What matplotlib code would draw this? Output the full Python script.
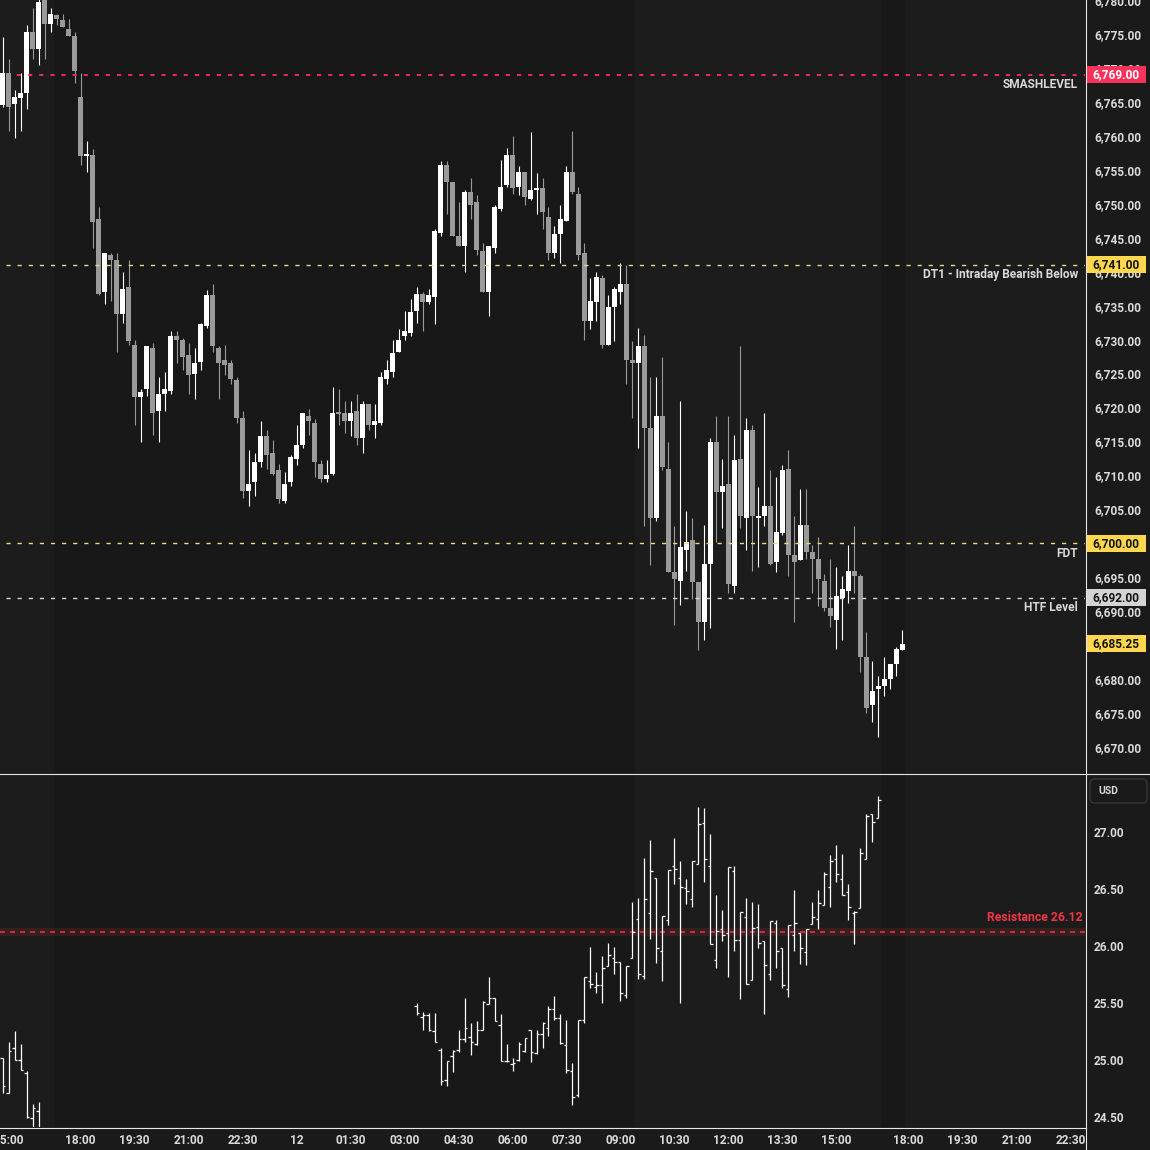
import matplotlib
matplotlib.use("Agg")
import matplotlib.pyplot as plt
import matplotlib.transforms as mtransforms
from matplotlib.patches import Rectangle, FancyBboxPatch
from matplotlib.lines import Line2D
import numpy as np

# %% data: 10 min candles, index 0 = 14:50 (day 11), index 150 = last bar (day 12)
opens = [6764.5, 6769.25, 6764.75, 6765.5, 6766.25, 6775.25, 6772.75, 6780.0, 6776.5, 6777.75,
         6777.0, 6775.75, 6774.75, 6765.75, 6757.0, 6757.25, 6747.75, 6737.0, 6742.5, 6741.75,
         6733.75, 6737.75, 6729.25, 6721.5, 6722.75, 6728.75, 6719.5, 6722.0, 6722.5, 6730.5,
         6730.0, 6727.75, 6725.0, 6726.75, 6732.0, 6736.5, 6728.75, 6727.0, 6726.5, 6724.0,
         6718.5, 6707.75, 6709.0, 6712.0, 6715.75, 6713.25, 6710.75, 6706.25, 6709.0, 6712.5,
         6714.5, 6718.75, 6717.75, 6711.75, 6709.5, 6710.25, 6719.25, 6719.25, 6718.0, 6719.5,
         6715.5, 6720.5, 6717.5, 6717.75, 6724.25, 6725.25, 6728.25, 6730.5, 6731.0, 6734.25,
         6736.75, 6735.5, 6736.25, 6745.75, 6755.75, 6753.25, 6745.25, 6743.75, 6751.75, 6750.25,
         6743.0, 6737.0, 6743.5, 6749.25, 6752.75, 6757.25, 6752.5, 6754.75, 6750.75, 6752.0,
         6752.25, 6748.0, 6742.75, 6745.5, 6747.5, 6754.75, 6751.5, 6742.75, 6732.75, 6735.5,
         6739.0, 6729.25, 6734.75, 6737.0, 6738.25, 6727.0, 6726.5, 6729.0, 6717.0, 6703.75,
         6718.75, 6711.0, 6695.75, 6694.5, 6699.0, 6700.5, 6694.25, 6688.5, 6697.0, 6715.0,
         6707.5, 6708.75, 6693.75, 6712.5, 6703.75, 6716.75, 6703.75, 6704.0, 6705.5, 6697.25,
         6701.5, 6711.0, 6698.25, 6697.5, 6702.75, 6698.75, 6697.75, 6694.5, 6690.5, 6688.75,
         6692.0, 6693.0, 6696.0, 6695.25, 6683.25, 6676.25, 6678.5, 6679.0, 6680.0, 6682.25,
         6684.25]
highs = [6774.5, 6771.25, 6766.75, 6769.25, 6776.25, 6778.75, 6781.0, 6781.0, 6778.75, 6778.0,
         6778.0, 6777.25, 6775.25, 6769.25, 6759.25, 6758.0, 6749.5, 6742.75, 6742.75, 6742.75,
         6740.0, 6741.75, 6730.0, 6722.75, 6729.0, 6729.5, 6724.5, 6725.25, 6731.25, 6731.25,
         6730.25, 6729.5, 6728.75, 6732.5, 6737.25, 6738.25, 6729.0, 6729.25, 6727.0, 6724.5,
         6719.5, 6713.75, 6713.25, 6718.0, 6716.75, 6715.25, 6711.75, 6710.5, 6713.0, 6717.5,
         6719.25, 6719.75, 6718.25, 6712.25, 6712.25, 6723.0, 6722.75, 6721.0, 6721.0, 6722.0,
         6721.0, 6720.5, 6720.5, 6725.25, 6727.0, 6730.0, 6731.5, 6734.25, 6736.0, 6737.75,
         6737.0, 6737.5, 6746.25, 6756.25, 6756.25, 6753.25, 6750.25, 6752.0, 6753.75, 6751.25,
         6744.25, 6743.75, 6749.75, 6756.5, 6758.25, 6760.0, 6755.5, 6754.75, 6760.5, 6754.5,
         6753.75, 6749.5, 6746.75, 6749.75, 6755.5, 6760.75, 6752.5, 6744.25, 6739.0, 6740.0,
         6739.5, 6736.5, 6737.75, 6741.25, 6741.0, 6729.75, 6731.75, 6730.75, 6724.5, 6724.5,
         6727.5, 6715.0, 6702.5, 6721.0, 6704.75, 6703.75, 6694.25, 6702.75, 6715.5, 6718.75,
         6712.5, 6718.75, 6716.0, 6729.0, 6718.5, 6717.5, 6708.25, 6719.25, 6710.75, 6709.75,
         6711.5, 6713.75, 6704.0, 6708.0, 6708.0, 6699.75, 6701.0, 6695.5, 6697.75, 6696.5,
         6695.25, 6699.75, 6702.5, 6695.5, 6687.0, 6682.75, 6680.5, 6683.25, 6682.25, 6684.75,
         6687.25]
lows = [6764.25, 6760.75, 6759.75, 6760.75, 6764.0, 6771.25, 6770.5, 6771.25, 6775.25, 6776.25,
        6776.0, 6774.75, 6767.75, 6755.75, 6754.75, 6743.5, 6736.5, 6735.25, 6735.75, 6728.25,
        6732.5, 6729.25, 6717.5, 6715.0, 6721.75, 6716.0, 6715.0, 6719.5, 6722.0, 6726.5,
        6725.5, 6722.0, 6721.25, 6725.5, 6731.75, 6728.25, 6721.25, 6724.75, 6723.5, 6717.75,
        6706.75, 6705.5, 6707.0, 6711.25, 6711.0, 6710.0, 6706.0, 6706.0, 6708.5, 6711.5,
        6714.0, 6716.0, 6709.75, 6709.0, 6709.0, 6710.0, 6717.5, 6716.25, 6715.75, 6714.5,
        6713.25, 6716.75, 6715.5, 6717.5, 6723.5, 6724.5, 6728.25, 6730.0, 6730.5, 6732.5,
        6731.25, 6735.25, 6732.25, 6745.25, 6748.5, 6745.25, 6743.75, 6740.0, 6747.75, 6742.5,
        6737.0, 6733.5, 6742.75, 6749.0, 6752.5, 6751.5, 6751.25, 6749.75, 6750.5, 6748.5,
        6746.25, 6741.75, 6742.0, 6741.25, 6747.5, 6751.5, 6741.75, 6730.0, 6731.5, 6732.75,
        6728.75, 6729.25, 6729.75, 6735.25, 6723.5, 6718.5, 6714.0, 6702.5, 6696.75, 6703.25,
        6710.75, 6695.75, 6688.0, 6691.0, 6696.0, 6691.75, 6684.25, 6685.75, 6687.5, 6700.25,
        6702.25, 6692.75, 6692.75, 6702.25, 6699.0, 6696.0, 6696.5, 6702.5, 6696.75, 6695.75,
        6701.25, 6695.25, 6688.5, 6697.5, 6697.75, 6692.75, 6690.75, 6690.0, 6687.75, 6684.5,
        6685.75, 6691.25, 6692.75, 6681.0, 6675.0, 6673.75, 6671.5, 6677.5, 6678.5, 6680.5,
        6684.25]
closes = [6769.25, 6764.25, 6765.75, 6766.25, 6775.25, 6772.75, 6779.75, 6776.5, 6778.0, 6777.25,
          6776.0, 6774.75, 6769.5, 6757.0, 6757.25, 6747.25, 6736.75, 6742.75, 6741.75, 6733.75,
          6737.5, 6729.75, 6721.5, 6722.25, 6729.0, 6719.25, 6722.0, 6722.75, 6730.5, 6730.0,
          6727.5, 6724.75, 6726.5, 6732.25, 6736.5, 6729.0, 6726.5, 6726.25, 6724.25, 6718.5,
          6707.75, 6708.75, 6712.0, 6715.75, 6713.0, 6710.25, 6706.5, 6708.75, 6712.75, 6714.5,
          6719.25, 6718.0, 6712.0, 6709.5, 6710.0, 6719.25, 6719.0, 6718.0, 6719.25, 6715.5,
          6720.5, 6717.5, 6718.0, 6724.5, 6725.5, 6728.0, 6730.0, 6731.25, 6734.0, 6736.75,
          6735.5, 6736.5, 6746.0, 6755.75, 6753.25, 6745.25, 6743.75, 6751.75, 6749.75, 6743.25,
          6737.0, 6743.75, 6749.5, 6752.5, 6757.25, 6752.25, 6754.75, 6751.0, 6752.0, 6752.25,
          6748.75, 6742.75, 6745.5, 6747.75, 6754.75, 6751.75, 6742.5, 6732.75, 6735.75, 6739.25,
          6729.25, 6734.75, 6737.5, 6738.25, 6727.0, 6726.5, 6729.0, 6717.0, 6703.75, 6718.75,
          6711.25, 6695.75, 6694.75, 6699.5, 6700.25, 6694.25, 6688.5, 6697.0, 6715.0, 6707.5,
          6708.5, 6694.0, 6712.25, 6704.0, 6716.75, 6704.0, 6704.0, 6705.5, 6697.0, 6701.75,
          6710.75, 6698.25, 6697.25, 6702.75, 6698.75, 6697.75, 6694.75, 6690.5, 6689.25, 6692.25,
          6693.25, 6696.0, 6695.25, 6683.25, 6675.75, 6678.25, 6679.0, 6680.0, 6682.25, 6684.5,
          6685.25]

# lower pane OHLC bars, two stretches (first starts at bar 0, second at bar 69)
vix1_start = 0
vix1_open = [25.02, 24.71, 25.10, 25.00, 24.88, 24.49, 24.55]
vix1_high = [25.02, 25.16, 25.25, 25.14, 24.90, 24.61, 24.63]
vix1_low = [24.71, 24.71, 25.00, 24.91, 24.49, 24.41, 24.38]
vix1_close = [24.77, 25.08, 25.00, 24.91, 24.50, 24.58, 24.40]

vix2_start = 69
vix2_open = [25.47, 25.38, 25.39, 25.25, 25.09, 24.82, 25.03, 25.09, 25.18, 25.20,
             25.14, 25.26, 25.49, 25.54, 25.31, 24.99, 24.96, 25.00, 25.08, 25.26,
             25.06, 25.23, 25.28, 25.45, 25.37, 25.13, 24.90, 24.69, 25.35, 25.69,
             25.64, 25.66, 25.82, 25.89, 25.86, 25.57, 25.89, 26.24, 25.74, 26.29,
             26.60, 25.96, 26.23, 26.70, 26.60, 26.51, 26.41, 26.72, 27.08, 26.70,
             25.88, 26.15, 26.11, 26.66, 26.05, 26.25, 25.70, 26.17, 26.04, 25.75,
             26.20, 25.98, 25.62, 26.10, 26.11, 25.95, 26.19, 26.24, 26.36, 26.52,
             26.76, 26.59, 26.47, 26.29, 26.33, 26.76, 27.16, 27.12]
vix2_high = [25.50, 25.42, 25.41, 25.41, 25.10, 24.99, 25.09, 25.26, 25.54, 25.32,
             25.34, 25.52, 25.73, 25.54, 25.40, 25.14, 25.02, 25.16, 25.19, 25.26,
             25.26, 25.33, 25.47, 25.56, 25.40, 25.35, 24.97, 25.35, 25.73, 25.99,
             25.77, 25.91, 26.03, 25.99, 25.86, 25.82, 26.39, 26.42, 26.77, 26.93,
             26.60, 26.26, 26.67, 26.95, 26.75, 26.59, 26.75, 27.22, 27.21, 26.98,
             26.45, 26.32, 26.69, 26.70, 26.30, 26.42, 26.39, 26.37, 26.04, 26.22,
             26.23, 25.98, 26.18, 26.49, 26.11, 26.15, 26.39, 26.49, 26.65, 26.80,
             26.89, 26.81, 26.54, 26.31, 26.86, 27.16, 27.16, 27.32]
vix2_low = [25.39, 25.26, 25.25, 25.16, 24.78, 24.77, 24.89, 25.07, 25.16, 25.04,
            25.13, 25.26, 25.49, 25.34, 24.99, 24.98, 24.90, 24.99, 25.07, 24.98,
            25.05, 25.10, 25.21, 25.35, 25.14, 24.88, 24.60, 24.67, 25.32, 25.63,
            25.59, 25.50, 25.82, 25.75, 25.52, 25.54, 25.89, 25.71, 25.71, 26.06,
            25.85, 25.69, 26.18, 26.54, 25.50, 26.37, 26.34, 26.72, 26.56, 26.02,
            25.81, 26.04, 25.73, 25.96, 25.53, 25.67, 25.70, 25.98, 25.40, 25.70,
            25.81, 25.63, 25.55, 25.96, 25.84, 25.83, 26.19, 26.15, 26.36, 26.34,
            26.56, 26.45, 26.23, 26.02, 26.33, 26.76, 26.91, 27.12]
vix2_close = [25.41, 25.39, 25.26, 25.16, 24.81, 24.99, 25.08, 25.18, 25.28, 25.16,
              25.26, 25.51, 25.54, 25.34, 24.99, 24.99, 24.97, 25.14, 25.19, 25.07,
              25.23, 25.32, 25.45, 25.37, 25.15, 24.91, 24.67, 25.35, 25.73, 25.67,
              25.66, 25.81, 25.92, 25.86, 25.59, 25.82, 26.12, 25.75, 26.41, 26.66,
              25.98, 26.26, 26.67, 26.68, 26.52, 26.48, 26.75, 27.07, 26.76, 26.02,
              26.13, 26.10, 26.69, 26.05, 26.30, 25.67, 26.16, 26.03, 25.83, 26.22,
              25.96, 25.66, 26.18, 26.20, 25.98, 26.15, 26.25, 26.38, 26.63, 26.75,
              26.63, 26.45, 26.34, 26.30, 26.82, 27.14, 27.09, 27.28]

# horizontal levels
level_prices = [6769.0, 6741.0, 6700.0, 6692.0]
level_names = ['SMASHLEVEL', 'DT1 - Intraday Bearish Below', 'FDT', 'HTF Level']
last_price = 6685.25
resistance = 26.12

# time axis
time_ticks = [1, 13, 22, 31, 40, 49, 58, 67, 76, 85, 94, 103, 112, 121, 130, 139, 151, 160, 169, 178]
time_labels = ['15:00', '18:00', '19:30', '21:00', '22:30', '12', '01:30', '03:00', '04:30', '06:00',
               '07:30', '09:00', '10:30', '12:00', '13:30', '15:00', '18:00', '19:30', '21:00', '22:30']

# %% styling
plt.rcParams['font.family'] = ['Roboto', 'DejaVu Sans']
plt.rcParams['font.weight'] = 'bold'
plt.rcParams['lines.scale_dashes'] = False

BG_DARK = '#181818'
BG_LIGHT = '#1c1c1c'
TXT = '#dadada'
UP = '#ffffff'
DOWN = '#9a9a9a'
FS = 8.6

W = 1150.0
fig = plt.figure(figsize=(11.5, 11.5), dpi=100, facecolor='#1a1a1a')

# axes positions in pixels: price pane y 0-773, lower pane y 774-1127, right scale from x 1085
ax1 = fig.add_axes([0, 1 - 773 / W, 1085 / W, 773 / W])
ax2 = fig.add_axes([0, 23 / W, 1085 / W, 353 / W])

xmin, xmax = -0.42, 180.42
for ax in (ax1, ax2):
    ax.set_facecolor(BG_DARK)
    ax.set_xlim(xmin, xmax)
    for s in ax.spines.values():
        s.set_visible(False)
    # session shading
    ax.axvspan(xmin, 8.5, color=BG_LIGHT, lw=0, zorder=0)
    ax.axvspan(105.5, 146.5, color=BG_LIGHT, lw=0, zorder=0)
    ax.axvspan(150.5, xmax, color=BG_LIGHT, lw=0, zorder=0)

# %% candles
o = np.array(opens)
h = np.array(highs)
l = np.array(lows)
c = np.array(closes)
x = np.arange(len(o))
cols = np.where(c >= o, UP, DOWN)
ax1.vlines(x, l, h, colors=cols, linewidth=0.8, zorder=3)
body = np.maximum(np.abs(c - o), 0.3)
ax1.bar(x, body, width=0.83, bottom=np.minimum(o, c), color=cols, linewidth=0, zorder=4)

ax1.set_ylim(6666.2, 6779.24)
ax1.yaxis.tick_right()
ax1.set_yticks(np.arange(6670, 6781, 5))
ax1.yaxis.set_major_formatter(matplotlib.ticker.FuncFormatter(lambda v, p: f'{v:,.2f}'))
ax1.tick_params(axis='y', length=0, pad=6.5, labelsize=FS, labelcolor=TXT)
ax1.set_xticks([])

# levels
blend1 = mtransforms.blended_transform_factory(ax1.transAxes, ax1.transData)
line_cols = ['#ff2d5a', '#eed77c', '#eed77c', '#d8d8d8']
line_w = [1.3, 1.0, 1.0, 1.0]
line_start = [17 / 1085, 6 / 1085, 6 / 1085, 6 / 1085]
tag_bg = ['#f7335c', '#ffd74f', '#ffd74f', '#d4d4d4']
tag_fg = ['#ffffff', '#131313', '#131313', '#131313']
for lv, name, lc, lw, ls, bg, fg in zip(level_prices, level_names, line_cols, line_w, line_start, tag_bg, tag_fg):
    ax1.axhline(lv, xmin=ls, xmax=1, color=lc, lw=lw, dashes=(3.0, 5.0), zorder=5)
    ax1.annotate(name, xy=(1, lv), xycoords=blend1, xytext=(-7, -10), textcoords='offset pixels',
                 ha='right', va='center', color=TXT, fontsize=8.6)
    ax1.add_patch(Rectangle((1.001, lv - 1.25), 60 / 1085, 2.5, transform=blend1, clip_on=False,
                            facecolor=bg, edgecolor='none', zorder=10))
    ax1.text(1.001 + 30 / 1085, lv, f'{lv:,.2f}', transform=blend1, ha='center', va='center',
             color=fg, fontsize=FS, zorder=11, clip_on=False)

# last price tag
ax1.add_patch(Rectangle((1.001, last_price - 1.25), 60 / 1085, 2.5, transform=blend1, clip_on=False,
                        facecolor='#ffd74f', edgecolor='none', zorder=10))
ax1.text(1.001 + 30 / 1085, last_price, f'{last_price:,.2f}', transform=blend1, ha='center',
         va='center', color='#131313', fontsize=FS, zorder=11, clip_on=False)

# %% lower pane OHLC bars
for start, vo, vh, vl, vc in [(vix1_start, vix1_open, vix1_high, vix1_low, vix1_close),
                              (vix2_start, vix2_open, vix2_high, vix2_low, vix2_close)]:
    xs = np.arange(start, start + len(vo))
    ax2.vlines(xs, vl, vh, color='white', lw=0.9, zorder=3)
    ax2.hlines(vo, xs - 0.38, xs, color='white', lw=0.9, zorder=3)
    ax2.hlines(vc, xs, xs + 0.38, color='white', lw=0.9, zorder=3)

ax2.set_ylim(24.41, 27.51)
ax2.yaxis.tick_right()
ax2.set_yticks([24.5, 25.0, 25.5, 26.0, 26.5, 27.0])
ax2.yaxis.set_major_formatter(matplotlib.ticker.FuncFormatter(lambda v, p: f'{v:.2f}'))
ax2.tick_params(axis='y', length=0, pad=6.5, labelsize=FS, labelcolor=TXT)
ax2.set_xticks(time_ticks)
ax2.set_xticklabels(time_labels)
ax2.tick_params(axis='x', length=0, pad=5, labelsize=FS, labelcolor=TXT)

# resistance band + line
ax2.axhspan(resistance - 0.035, resistance + 0.035, color='#f23645', alpha=0.13, lw=0, zorder=1)
ax2.axhline(resistance, color='#f23645', lw=1.1, dashes=(3.6, 3.6), zorder=2)
blend2 = mtransforms.blended_transform_factory(ax2.transAxes, ax2.transData)
ax2.annotate(f'Resistance {resistance:.2f}', xy=(1, resistance), xycoords=blend2, xytext=(-2, 15),
             textcoords='offset pixels', ha='right', va='center', color='#f23645', fontsize=8.8)

# currency box
fig.add_artist(FancyBboxPatch((1090 / W, 1 - 803 / W), 57 / W, 24 / W,
                              boxstyle='round,pad=0,rounding_size=0.004', transform=fig.transFigure,
                              facecolor='#1a1a1a', edgecolor='#3c3c3c', lw=0.8))
fig.text(1098 / W, 1 - 791 / W, 'USD', color=TXT, fontsize=7.5, va='center', ha='left')

# separators
fig.add_artist(Line2D([0, 1], [1 - 773.5 / W] * 2, transform=fig.transFigure, color='#e6e6e6', lw=0.8))
fig.add_artist(Line2D([0, 1085.5 / W], [1 - 1127.5 / W] * 2, transform=fig.transFigure, color='#e6e6e6', lw=0.8))
fig.add_artist(Line2D([1085.5 / W] * 2, [0, 1], transform=fig.transFigure, color='#e6e6e6', lw=0.8))

fig.savefig('out.png', dpi=100, facecolor=fig.get_facecolor())
